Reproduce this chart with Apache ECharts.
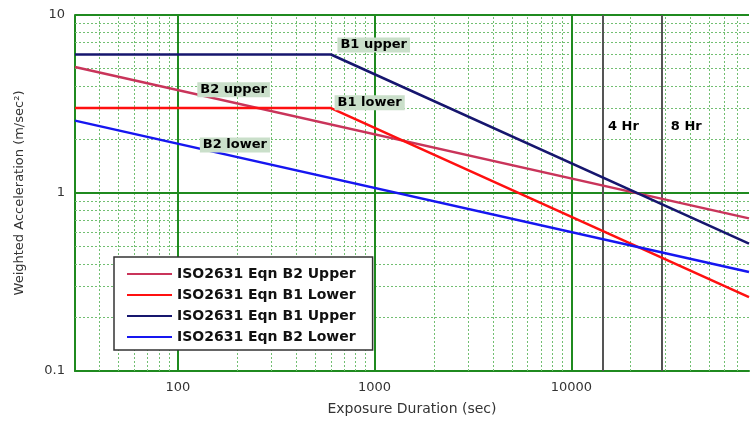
<!DOCTYPE html>
<html>
<head>
<meta charset="utf-8">
<script src="https://cdn.jsdelivr.net/npm/echarts@6/dist/echarts.min.js"></script>
<style>
html,body{margin:0;padding:0;background:#fff;}
#chart{width:752px;height:422px;}
</style>
</head>
<body>
<div id="chart"></div>
<script>
// ---- data ----
const seriesNames = ['ISO2631 Eqn B2 Upper', 'ISO2631 Eqn B1 Lower', 'ISO2631 Eqn B1 Upper', 'ISO2631 Eqn B2 Lower'];
const b2UpperX = [30, 80000];
const b2UpperY = [5.1, 0.72];
const b1LowerX = [30, 600, 80000];
const b1LowerY = [3, 3, 0.26];
const b1UpperX = [30, 600, 80000];
const b1UpperY = [6, 6, 0.52];
const b2LowerX = [30, 80000];
const b2LowerY = [2.55, 0.36];
const xTickValues = [100, 1000, 10000];
const yTickValues = [0.1, 1, 10];
const xMinorValues = [40, 50, 60, 70, 80, 90, 200, 300, 400, 500, 600, 700, 800, 900,
  2000, 3000, 4000, 5000, 6000, 7000, 8000, 9000, 20000, 30000, 40000, 50000, 60000, 70000];
const yMinorValues = [0.2, 0.3, 0.4, 0.5, 0.6, 0.7, 0.8, 0.9, 2, 3, 4, 5, 6, 7, 8, 9];
const hourValues = [14400, 28800];
const hourLabels = ['4 Hr', '8 Hr'];
const curveLabels = ['B1 upper', 'B1 lower', 'B2 upper', 'B2 lower'];

// ---- styles ----
const colors = ['#c9345a', '#ff1010', '#16166e', '#1616f0'];
const majorGreen = '#1f8a1f';
const minorGreen = '#72bf72';
const FONT = 'DejaVu Sans';

const zip = (xs, ys) => xs.map((x, i) => [x, ys[i]]);
const curves = [zip(b2UpperX, b2UpperY), zip(b1LowerX, b1LowerY), zip(b1UpperX, b1UpperY), zip(b2LowerX, b2LowerY)];

const isDecade = v => Math.abs(Math.log10(v) - Math.round(Math.log10(v))) < 1e-6;

const gridLines = [];
xMinorValues.forEach(v => gridLines.push({ xAxis: v, lineStyle: { color: minorGreen, width: 1, type: [2, 2] } }));
yMinorValues.forEach(v => gridLines.push({ yAxis: v, lineStyle: { color: minorGreen, width: 1, type: [2, 2] } }));
xTickValues.forEach(v => gridLines.push({ xAxis: v, lineStyle: { color: majorGreen, width: 2, type: 'solid' } }));
yTickValues.slice(1).forEach(v => gridLines.push({ yAxis: v, lineStyle: { color: majorGreen, width: 2, type: 'solid' } }));
hourValues.forEach(v => gridLines.push({ xAxis: v, lineStyle: { color: '#555', width: 2, type: 'solid' } }));

const labelCoords = [[990, 6.79], [944, 3.21], [192, 3.80], [195, 1.86]];
const hourLabelCoords = [[18400, 2.35], [38400, 2.35]];

const annotations = curveLabels.map((t, i) => ({
  coord: labelCoords[i], value: t,
  label: { backgroundColor: '#cadfca', padding: [1, 3, 1, 3] }
})).concat(hourLabels.map((t, i) => ({ coord: hourLabelCoords[i], value: t })));

const chart = echarts.init(document.getElementById('chart'));
chart.setOption({
  backgroundColor: '#fff',
  animation: false,
  grid: { left: 75, top: 15, right: 0, bottom: 51 },
  xAxis: {
    type: 'log', logBase: 10, min: 30, max: 80000,
    name: 'Exposure Duration (sec)', nameLocation: 'middle', nameGap: 31,
    nameTextStyle: { fontFamily: FONT, fontSize: 14, color: '#333' },
    axisLine: { show: true, lineStyle: { color: majorGreen, width: 2 } },
    axisTick: { show: false },
    splitLine: { show: false },
    axisLabel: { fontFamily: FONT, fontSize: 13, color: '#333', margin: 10,
      formatter: v => isDecade(v) ? String(Math.round(v)) : '' }
  },
  yAxis: {
    type: 'log', logBase: 10, min: 0.1, max: 10,
    name: 'Weighted Acceleration (m/sec²)', nameLocation: 'middle', nameGap: 49,
    nameTextStyle: { fontFamily: FONT, fontSize: 13, color: '#333' },
    axisLine: { show: true, lineStyle: { color: majorGreen, width: 2 } },
    axisTick: { show: false },
    splitLine: { show: false },
    axisLabel: { fontFamily: FONT, fontSize: 13, color: '#333', margin: 10,
      formatter: v => { if (!isDecade(v)) return ''; const e = Math.round(Math.log10(v)); return e < 0 ? '0.1' : String(Math.round(v)); } }
  },
  legend: {
    data: seriesNames,
    orient: 'vertical', left: 114, top: 257,
    backgroundColor: '#fff', borderColor: '#333', borderWidth: 1.5,
    padding: [10, 17, 6, 13], itemGap: 7,
    icon: 'rect', itemWidth: 45, itemHeight: 2,
    textStyle: { fontFamily: FONT, fontSize: 14, fontWeight: 'bold', color: '#111' }
  },
  series: [
    {
      name: 'grid', type: 'line', data: [[30, 0.1]], symbol: 'none', silent: true,
      lineStyle: { opacity: 0 },
      markLine: { silent: true, symbol: 'none', z: 1, label: { show: false }, animation: false, data: gridLines },
      markPoint: {
        silent: true, symbol: 'rect', symbolSize: 0, z: 6, animation: false,
        label: { show: true, position: 'inside', fontFamily: FONT, fontSize: 13, fontWeight: 'bold', color: '#000',
          formatter: p => p.value },
        data: annotations
      }
    }
  ].concat(curves.map((d, i) => ({
    name: seriesNames[i], type: 'line', data: d, symbol: 'none', z: 3,
    color: colors[i],
    lineStyle: { color: colors[i], width: 2.5 }
  })))
});
</script>
</body>
</html>
